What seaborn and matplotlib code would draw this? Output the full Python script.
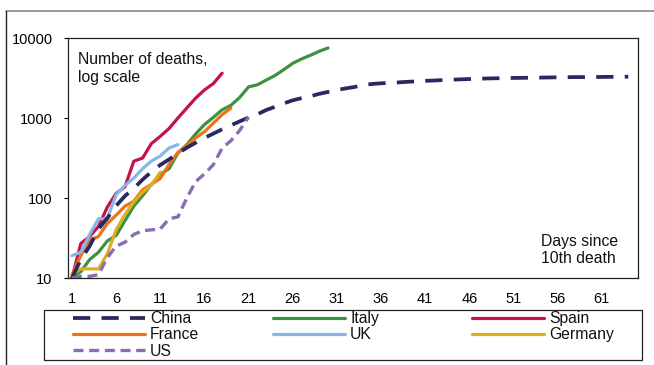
import matplotlib
matplotlib.use("Agg")
import matplotlib.pyplot as plt
from matplotlib.lines import Line2D
from matplotlib.patches import Rectangle
import seaborn as sns
import pandas as pd

# ---------------- data ----------------
china = [10, 17, 25, 41, 56, 80, 106, 132, 170, 213, 259, 304, 361, 425, 490, 563,
         637, 722, 811, 908, 1016, 1113, 1259, 1380, 1523, 1665, 1770, 1868, 2004,
         2118, 2236, 2345, 2442, 2592, 2663, 2715, 2744, 2788, 2835, 2870, 2912,
         2943, 2981, 3012, 3042, 3070, 3097, 3119, 3136, 3158, 3169, 3176, 3189,
         3199, 3213, 3226, 3237, 3245, 3248, 3255, 3261, 3270, 3277, 3281]
italy = [10, 12, 17, 21, 29, 34, 52, 79, 107, 148, 197, 233, 366, 463, 631, 827,
         1016, 1266, 1441, 1809, 2450, 2600, 2978, 3405, 4032, 4825, 5476, 6077,
         6820, 7503]
spain = [10, 27, 33, 44, 77, 114, 138, 288, 316, 480, 590, 740, 1000, 1330, 1770,
         2240, 2690, 3630]
france = [11, 19, 30, 33, 48, 61, 79, 91, 127, 148, 175, 264, 372, 450, 562, 674,
          860, 1100, 1331]
uk = [19, 21, 35, 55, 55, 110, 144, 177, 233, 290, 335, 422, 465]
germany = [11, 13, 13, 13, 20, 40, 62, 89, 118, 145, 210]
us = [10, 10.5, 10.5, 11, 18, 25, 28, 35, 39, 40, 41, 55, 58, 100, 160, 200, 260,
      420, 520, 700, 1030]

series_names = ["China", "Italy", "Spain", "France", "UK", "Germany", "US"]
series_values = [china, italy, spain, france, uk, germany, us]
x_ticks = list(range(1, 62, 5))
y_ticks = [10, 100, 1000, 10000]

colors = {
    "China": "#2a2860",
    "Italy": "#3d9140",
    "Spain": "#c3124c",
    "France": "#ee7219",
    "UK": "#86b7e6",
    "Germany": "#dcae22",
    "US": "#8c6cb4",
}
styles = {
    "China": dict(lw=2.7, linestyle=(0, (4.6, 3.0))),
    "US": dict(lw=2.4, linestyle=(0, (3.0, 1.7))),
}
draw_order = ["Italy", "Spain", "France", "UK", "Germany", "China", "US"]

rows = []
for name, vals in zip(series_names, series_values):
    for i, v in enumerate(vals):
        rows.append({"country": name, "day": i + 1, "deaths": v})
df = pd.DataFrame(rows)

# ---------------- figure ----------------
sns.set_style("white")
plt.rcParams["font.family"] = ["Liberation Sans", "DejaVu Sans"]

W, H = 654, 365
fig = plt.figure(figsize=(W / 100, H / 100), dpi=100)
ax = fig.add_axes([68 / W, 1 - 278 / H, (638 - 68) / W, (278 - 38) / H])

for name in draw_order:
    sub = df[df["country"] == name]
    st = styles.get(name, dict(lw=2.3, linestyle="-"))
    sns.lineplot(data=sub, x="day", y="deaths", ax=ax, color=colors[name],
                 lw=st["lw"], linestyle=st["linestyle"], legend=False,
                 estimator=None, sort=True)

ax.set_yscale("log")
ax.set_ylim(10, 10000)
ax.set_xlim(0.55, 65.1)
ax.set_xticks(x_ticks)
ax.set_xticklabels([str(t) for t in x_ticks])
ax.set_yticks(y_ticks)
ax.set_yticklabels([str(t) for t in y_ticks])
ax.yaxis.set_minor_locator(matplotlib.ticker.NullLocator())
ax.set_xlabel("")
ax.set_ylabel("")
ax.tick_params(axis="x", length=0, pad=10, labelsize=10.5, colors="#000000")
ax.tick_params(axis="y", length=3, width=0.8, direction="out", pad=8,
               labelsize=10.5, colors="#000000", left=True)
for s in ax.spines.values():
    s.set_visible(True)
    s.set_color("#222222")
    s.set_linewidth(0.9)
ax.grid(False)

ax.text(0.0175, 0.94, "Number of deaths,\nlog scale", transform=ax.transAxes,
        ha="left", va="top", fontsize=11.3, linespacing=1.2, color="#111111")
ax.text(0.83, 0.05, "Days since\n10th death", transform=ax.transAxes,
        ha="left", va="bottom", fontsize=11.3, linespacing=1.15, color="#111111")

# ---------------- legend (three columns) ----------------
def handle(name):
    st = styles.get(name, dict(lw=2.3, linestyle="-"))
    return Line2D([], [], color=colors[name], lw=st["lw"], linestyle=st["linestyle"])

columns = [(["China", "France", "US"], 73), (["Italy", "UK"], 273),
           (["Spain", "Germany"], 472)]
for names, xpx in columns:
    leg = fig.legend([handle(n) for n in names], names, loc="upper left",
                     bbox_to_anchor=(xpx / W, 1 - 311 / H), frameon=False,
                     borderpad=0, borderaxespad=0, handlelength=4.6,
                     handletextpad=0.32, labelspacing=0.09, fontsize=11.3)
    for t in leg.get_texts():
        t.set_color("#111111")

fig.add_artist(Rectangle((44 / W, 1 - 360 / H), (642 - 44) / W, 50 / H,
                         transform=fig.transFigure, fill=False,
                         edgecolor="#222222", lw=0.9))

# outer frame lines
fig.add_artist(Line2D([6 / W, 1], [1 - 10.5 / H, 1 - 10.5 / H],
                      transform=fig.transFigure, color="#8a8a8a", lw=1.2))
fig.add_artist(Line2D([6 / W, 6 / W], [1 - 10.5 / H, 0],
                      transform=fig.transFigure, color="#222222", lw=1.0))

fig.savefig("out.png", dpi=100)
